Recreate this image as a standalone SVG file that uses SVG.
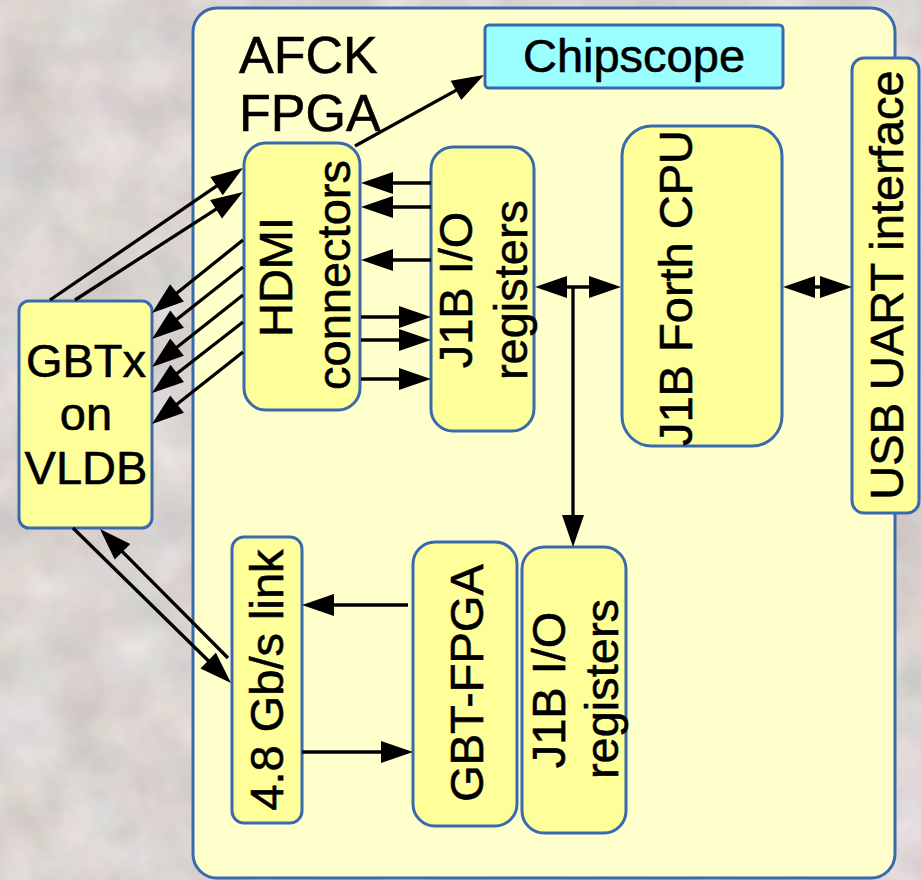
<svg xmlns="http://www.w3.org/2000/svg" width="921" height="880" viewBox="0 0 921 880">
  <defs>
    <filter id="granite" x="0" y="0" width="921" height="880" filterUnits="userSpaceOnUse" color-interpolation-filters="sRGB">
      <feTurbulence type="fractalNoise" baseFrequency="0.016" numOctaves="6" seed="11" result="n"/>
      <feColorMatrix in="n" type="matrix" values="0.06 0 0 0.16 0.745  0 0.04 0 0.16 0.73  0 0 0.04 0.16 0.72  0 0 0 0 1"/>
    </filter>
    <marker id="arrow" markerUnits="userSpaceOnUse" markerWidth="32" markerHeight="22" refX="26" refY="11" orient="auto-start-reverse" overflow="visible">
      <path d="M0,0 L32,11 L0,22 Z" fill="#000"/>
    </marker>
  </defs>
  <style>
    .box { fill: #ffff99; stroke: #3a6aad; stroke-width: 3; }
    .outer { fill: #ffffcc; stroke: #3a6aad; stroke-width: 3; }
    .scope { fill: #99ffff; stroke: #3a6aad; stroke-width: 3; }
    .lbl { font-family: "Liberation Sans", Arial, sans-serif; font-size: 47px; fill: #000; stroke: #000; stroke-width: 0.6px; }
    .mid { text-anchor: middle; }
    .conn line { stroke: #000; stroke-width: 3.3; fill: none; marker-end: url(#arrow); }
    .conn line.both { marker-start: url(#arrow); }
  </style>

  <!-- stone background -->
  <rect x="0" y="0" width="921" height="880" fill="#d8d0cd"/>
  <rect x="0" y="0" width="921" height="880" filter="url(#granite)"/>

  <!-- FPGA board outline -->
  <g id="afck">
    <rect class="outer" x="193" y="8" width="702" height="870" rx="24"/>
    <text class="lbl" style="font-size:52px" x="239" y="73">AFCK</text>
    <text class="lbl" style="font-size:52px" x="239" y="131">FPGA</text>
  </g>

  <g id="chipscope">
    <rect class="scope" x="485" y="25" width="298" height="63" rx="4"/>
    <text class="lbl mid" x="634" y="72">Chipscope</text>
  </g>

  <g id="hdmi">
    <rect class="box" x="244" y="143" width="116" height="267" rx="22"/>
    <text class="lbl mid" transform="translate(292,277) rotate(-90)">HDMI</text>
    <text class="lbl mid" transform="translate(350,275) rotate(-90)">connectors</text>
  </g>

  <g id="j1b-io-top">
    <rect class="box" x="431" y="147" width="103" height="284" rx="22"/>
    <text class="lbl mid" transform="translate(472,290) rotate(-90)">J1B I/O</text>
    <text class="lbl mid" transform="translate(527,290) rotate(-90)">registers</text>
  </g>

  <g id="j1b-cpu">
    <rect class="box" x="622" y="126" width="160" height="320" rx="30"/>
    <text class="lbl mid" transform="translate(692,288) rotate(-90)">J1B Forth CPU</text>
  </g>

  <g id="usb-uart">
    <rect class="box" x="852" y="58" width="67" height="455" rx="12"/>
    <text class="lbl mid" transform="translate(903,285) rotate(-90)">USB UART interface</text>
  </g>

  <g id="gbtx">
    <rect class="box" x="19" y="301" width="133" height="227" rx="10"/>
    <text class="lbl mid" x="86" y="377">GBTx</text>
    <text class="lbl mid" x="86" y="430">on</text>
    <text class="lbl mid" x="86" y="484">VLDB</text>
  </g>

  <g id="link">
    <rect class="box" x="232" y="537" width="70" height="286" rx="12"/>
    <text class="lbl mid" transform="translate(283,680) rotate(-90)">4.8 Gb/s link</text>
  </g>

  <g id="gbt-fpga">
    <rect class="box" x="413" y="542" width="104" height="284" rx="22"/>
    <text class="lbl mid" transform="translate(483,683) rotate(-90)">GBT-FPGA</text>
  </g>

  <g id="j1b-io-bottom">
    <rect class="box" x="522" y="547" width="104" height="286" rx="22"/>
    <text class="lbl mid" transform="translate(565,690) rotate(-90)">J1B I/O</text>
    <text class="lbl mid" transform="translate(618,689) rotate(-90)">registers</text>
  </g>

  <g id="connectors" class="conn">
    <!-- HDMI to Chipscope -->
    <line x1="355" y1="146" x2="478.7" y2="77.9"/>
    <!-- GBTx to HDMI -->
    <line x1="50" y1="300" x2="238" y2="171.4"/>
    <line x1="75" y1="300" x2="237.9" y2="195.2"/>
    <!-- HDMI to GBTx -->
    <line x1="243" y1="240" x2="156.7" y2="309.2"/>
    <line x1="243" y1="267" x2="156.7" y2="335.3"/>
    <line x1="243" y1="295" x2="156.7" y2="363.3"/>
    <line x1="243" y1="322" x2="156.7" y2="389.3"/>
    <line x1="243" y1="352" x2="156.7" y2="420.3"/>
    <!-- registers to HDMI -->
    <line x1="431" y1="183" x2="367" y2="183"/>
    <line x1="431" y1="207" x2="367" y2="207"/>
    <line x1="431" y1="260" x2="367" y2="260"/>
    <!-- HDMI to registers -->
    <line x1="361" y1="317" x2="425" y2="317"/>
    <line x1="361" y1="340" x2="425" y2="340"/>
    <line x1="361" y1="379" x2="425" y2="379"/>
    <!-- registers / CPU bus -->
    <line class="both" x1="541" y1="287" x2="615" y2="287"/>
    <line x1="573" y1="286" x2="573" y2="541"/>
    <!-- CPU / USB UART -->
    <line class="both" x1="789" y1="287" x2="846" y2="287"/>
    <!-- GBTx / link -->
    <line x1="73" y1="528" x2="226.7" y2="678.8"/>
    <line x1="228" y1="658" x2="104.2" y2="533.3"/>
    <!-- GBT-FPGA / link -->
    <line x1="408" y1="605" x2="308" y2="605"/>
    <line x1="302" y1="752" x2="407" y2="752"/>
  </g>
</svg>
